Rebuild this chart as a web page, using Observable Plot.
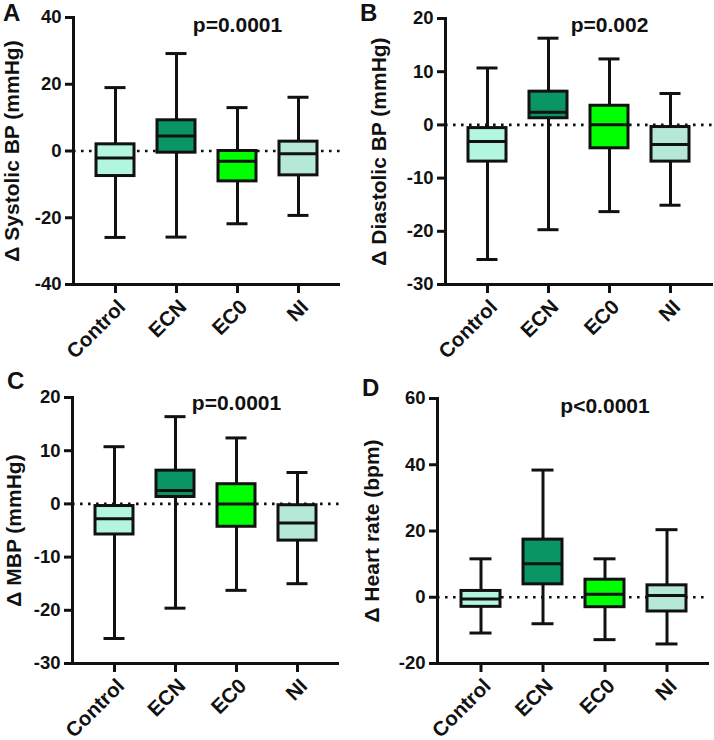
<!DOCTYPE html>
<html>
<head>
<meta charset="utf-8">
<script src="https://cdn.jsdelivr.net/npm/d3@7"></script>
<script src="https://cdn.jsdelivr.net/npm/@observablehq/plot@0.6"></script>
<style>
  html, body { margin: 0; padding: 0; background: #fff; }
  #root { position: relative; width: 714px; height: 740px; overflow: hidden; font-family: "Liberation Sans", Arial, Helvetica, sans-serif; }
  .panel { position: absolute; }
  #overlay { position: absolute; left: 0; top: 0; pointer-events: none; }
</style>
</head>
<body>
<div id="root"></div>
<script>
// ---------- data ----------
const categories = ["Control", "ECN", "EC0", "NI"];
const boxColors = ["#b3f6df", "#0a9664", "#00ff00", "#b5e8d6"];

// A: Δ Systolic BP (mmHg)
const sbpMin = [-25.9, -25.8, -21.8, -19.3];
const sbpQ1  = [-7.5, -0.5, -9.1, -7.3];
const sbpMed = [-2.1, 4.5, -3.1, -0.8];
const sbpQ3  = [2.0, 9.2, 0.0, 2.8];
const sbpMax = [19.0, 29.2, 13.0, 16.1];
const sbpTicks = [-40, -20, 0, 20, 40];

// B: Δ Diastolic BP (mmHg)
const dbpMin = [-25.3, -19.7, -16.3, -15.1];
const dbpQ1  = [-6.9, 1.25, -4.4, -6.9];
const dbpMed = [-3.1, 2.4, 0.05, -3.7];
const dbpQ3  = [-0.6, 6.25, 3.6, -0.4];
const dbpMax = [10.7, 16.3, 12.4, 5.9];
const dbpTicks = [-30, -20, -10, 0, 10, 20];

// C: Δ MBP (mmHg)
const mbpMin = [-25.3, -19.6, -16.25, -15.0];
const mbpQ1  = [-5.75, 1.3, -4.3, -6.9];
const mbpMed = [-2.8, 2.5, 0.0, -3.6];
const mbpQ3  = [-0.4, 6.25, 3.7, -0.25];
const mbpMax = [10.75, 16.4, 12.4, 5.9];
const mbpTicks = [-30, -20, -10, 0, 10, 20];

// D: Δ Heart rate (bpm)
const hrMin = [-10.8, -8.0, -12.8, -14.1];
const hrQ1  = [-2.9, 3.9, -3.0, -4.3];
const hrMed = [-0.5, 10.1, 0.9, 0.5];
const hrQ3  = [1.9, 17.4, 5.3, 3.6];
const hrMax = [11.6, 38.4, 11.6, 20.4];
const hrTicks = [-20, 0, 20, 40, 60];

const panelLetters = ["A", "B", "C", "D"];
const panelLabels = ["\u0394 Systolic BP (mmHg)", "\u0394 Diastolic BP (mmHg)", "\u0394 MBP (mmHg)", "\u0394 Heart rate (bpm)"];
const pValues = ["p=0.0001", "p=0.002", "p=0.0001", "p<0.0001"];

// ---------- layout ----------
const FONT = "'Liberation Sans', Arial, Helvetica, sans-serif";
const INK = "#111";
const YTICK_FS = 18.5;
const XTICK_FS = 20.5;
const LABEL_FS = 21;

const panels = [
  {left: 0,   top: 0,   ml: 73, mr: 17, mt: 17, mb: 86, labelDx: -69, pDy: 8,
   min: sbpMin, q1: sbpQ1, med: sbpMed, q3: sbpQ3, max: sbpMax, ticks: sbpTicks},
  {left: 357, top: 0,   ml: 88, mr: 1,  mt: 18, mb: 86, labelDx: -74, pDy: 7,
   min: dbpMin, q1: dbpQ1, med: dbpMed, q3: dbpQ3, max: dbpMax, ticks: dbpTicks},
  {left: 0,   top: 370, ml: 72, mr: 18, mt: 27, mb: 77, labelDx: -66, pDy: 6,
   min: mbpMin, q1: mbpQ1, med: mbpMed, q3: mbpQ3, max: mbpMax, ticks: mbpTicks},
  {left: 357, top: 370, ml: 80, mr: 5,  mt: 28, mb: 77, labelDx: -73, pDy: 8,
   min: hrMin, q1: hrQ1, med: hrMed, q3: hrQ3, max: hrMax, ticks: hrTicks}
];

const root = document.getElementById("root");

panels.forEach((p, k) => {
  const rows = categories.map((c, i) => ({
    cat: c, min: p.min[i], q1: p.q1[i], med: p.med[i], q3: p.q3[i], max: p.max[i]
  }));
  const yDomain = [d3.min(p.ticks), d3.max(p.ticks)];

  const chart = Plot.plot({
    width: 357,
    height: 370,
    marginLeft: p.ml,
    marginRight: p.mr,
    marginTop: p.mt,
    marginBottom: p.mb,
    style: {fontFamily: FONT, fontSize: YTICK_FS + "px", fontWeight: "bold", color: INK, background: "transparent", overflow: "visible"},
    x: {type: "band", domain: categories, padding: 0.377, axis: null},
    y: {domain: yDomain, axis: null},
    color: {domain: categories, range: boxColors},
    marks: [
      Plot.ruleY([0], {stroke: INK, strokeWidth: 2.6, strokeDasharray: "2.6,5.4"}),
      Plot.ruleX(rows, {x: "cat", y1: "min", y2: "max", stroke: INK, strokeWidth: 3}),
      Plot.barY(rows, {x: "cat", y1: "q1", y2: "q3", fill: "cat", stroke: INK, strokeWidth: 3}),
      Plot.tickY(rows, {x: "cat", y: "med", stroke: INK, strokeWidth: 3}),
      Plot.tickY(rows, {x: "cat", y: "min", stroke: INK, strokeWidth: 3, inset: 8.5}),
      Plot.tickY(rows, {x: "cat", y: "max", stroke: INK, strokeWidth: 3, inset: 8.5}),
      Plot.axisY({ticks: p.ticks, tickSize: 8, tickPadding: 4, strokeWidth: 3, stroke: INK, fill: INK,
                  tickFormat: d => String(d), label: null, fontSize: YTICK_FS, fontWeight: "bold"}),
      // x tick marks only
      Plot.axisX({tickSize: 9, strokeWidth: 3, stroke: INK, tickFormat: () => "", label: null}),
      // rotated x tick labels
      Plot.axisX({tickSize: 0, tickPadding: 19, dx: 6.5, fill: INK, tickRotate: -45, label: null,
                  fontSize: XTICK_FS, fontWeight: "bold"}),
      Plot.ruleY([yDomain[0]], {stroke: INK, strokeWidth: 3}),
      Plot.frame({anchor: "left", stroke: INK, strokeWidth: 3}),
      Plot.text([panelLabels[k]], {frameAnchor: "left", rotate: -90, dx: p.labelDx, lineAnchor: "top",
                  textAnchor: "middle", text: d => d, fontSize: LABEL_FS, fontWeight: "bold", fill: INK}),
      Plot.text([pValues[k]], {x: () => "EC0", frameAnchor: "top", dy: p.pDy, lineAnchor: "middle",
                  text: d => d, fontSize: LABEL_FS, fontWeight: "bold", fill: INK})
    ]
  });
  chart.classList.add("panel");
  chart.style.left = p.left + "px";
  chart.style.top = p.top + "px";
  chart.style.position = "absolute";
  root.appendChild(chart);
});

// panel letters
const letterPos = [[3, 21], [360, 21], [7, 389], [362, 396]];
const overlay = d3.select(root).append("svg")
  .attr("id", "overlay").attr("width", 714).attr("height", 740);
overlay.selectAll("text").data(panelLetters).join("text")
  .attr("x", (d, i) => letterPos[i][0])
  .attr("y", (d, i) => letterPos[i][1])
  .attr("font-family", FONT)
  .attr("font-size", 24)
  .attr("font-weight", "bold")
  .attr("fill", INK)
  .text(d => d);
</script>
</body>
</html>
